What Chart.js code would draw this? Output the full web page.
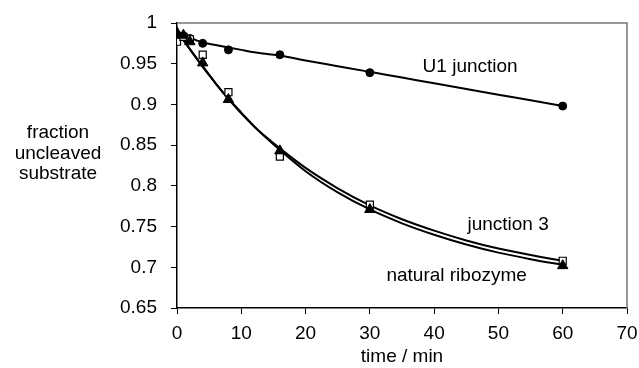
<!DOCTYPE html>
<html>
<head>
<meta charset="utf-8">
<script src="https://cdn.jsdelivr.net/npm/chart.js@4.4.1/dist/chart.umd.min.js"></script>
<style>
  html, body { margin: 0; padding: 0; background: #fff; }
  #wrap { width: 639px; height: 368px; }
</style>
</head>
<body>
<div id="wrap"><canvas id="chart" width="639" height="368"></canvas></div>
<script>
// measured points (time in min, fraction uncleaved)
const times = [0, 1, 2, 4, 8, 16, 30, 60];
const u1Values = [0.985, 0.984, 0.981, 0.975, 0.967, 0.961, 0.939, 0.898];
const junction3Values = [0.977, 0.983, 0.980, 0.961, 0.915, 0.836, 0.777, 0.708];
const naturalValues = [0.988, 0.985, 0.977, 0.951, 0.906, 0.843, 0.771, 0.702];

// fitted curves
const fitTimes = [0, 2, 4, 6, 8, 10, 12, 14, 16, 20, 25, 30, 35, 40, 45, 50, 55, 60];
const u1Fit = [0.990, 0.982, 0.976, 0.973, 0.970, 0.967, 0.964, 0.962, 0.960, 0.954, 0.947, 0.940, 0.933, 0.926, 0.919, 0.912, 0.905, 0.898];
const junction3Fit = [0.990, 0.968, 0.946, 0.926, 0.907, 0.889, 0.873, 0.859, 0.846, 0.822, 0.797, 0.776, 0.759, 0.745, 0.733, 0.723, 0.715, 0.708];
const naturalFit = [0.990, 0.968, 0.947, 0.926, 0.907, 0.890, 0.873, 0.858, 0.844, 0.818, 0.792, 0.771, 0.754, 0.740, 0.728, 0.718, 0.710, 0.703];

const curveLabels = ["U1 junction", "junction 3", "natural ribozyme"];
const labelSpots = [{ x: 45.6, y: 0.946 }, { x: 51.5, y: 0.752 }, { x: 43.5, y: 0.690 }];

const FONT = "'Liberation Sans', Arial, sans-serif";

function pts(xs, ys) {
  return xs.map((x, i) => ({ x, y: ys[i] }));
}

function fitLine(data, order) {
  return {
    type: "line",
    data,
    borderColor: "#000",
    borderWidth: 2,
    pointRadius: 0,
    cubicInterpolationMode: "monotone",
    fill: false,
    order
  };
}

const extras = {
  id: "extras",
  beforeDatasetsDraw(chart) {
    const { ctx, chartArea: a } = chart;
    ctx.save();
    ctx.strokeStyle = "#777";
    ctx.lineWidth = 1.5;
    ctx.beginPath();
    ctx.moveTo(a.left, a.top);
    ctx.lineTo(a.right, a.top);
    ctx.lineTo(a.right, a.bottom);
    ctx.stroke();
    ctx.restore();
  },
  afterDraw(chart) {
    const { ctx } = chart;
    const xs = chart.scales.x;
    const ys = chart.scales.y;
    ctx.save();
    ctx.fillStyle = "#000";
    ctx.font = "19px " + FONT;
    ctx.textAlign = "center";
    ctx.textBaseline = "middle";
    curveLabels.forEach((t, i) => {
      ctx.fillText(t, xs.getPixelForValue(labelSpots[i].x), ys.getPixelForValue(labelSpots[i].y));
    });
    ctx.fillText("time / min", 402, 357);
    ["fraction", "uncleaved", "substrate"].forEach((t, i) => {
      ctx.fillText(t, 58, 133 + i * 20.5);
    });
    ctx.restore();
  }
};

new Chart(document.getElementById("chart"), {
  type: "scatter",
  data: {
    datasets: [
      {
        label: "natural ribozyme",
        data: pts(times, naturalValues),
        pointStyle: "triangle",
        pointRadius: 6,
        backgroundColor: "#000",
        borderColor: "#000",
        borderWidth: 1,
        order: 1
      },
      {
        label: "junction 3",
        data: pts(times, junction3Values),
        pointStyle: "rect",
        pointRadius: 5,
        backgroundColor: "#fff",
        borderColor: "#000",
        borderWidth: 1.2,
        order: 2
      },
      {
        label: "U1 junction",
        data: pts(times, u1Values),
        pointStyle: "circle",
        pointRadius: 4,
        backgroundColor: "#000",
        borderColor: "#000",
        borderWidth: 1,
        order: 3
      },
      fitLine(pts(fitTimes, u1Fit), 6),
      fitLine(pts(fitTimes, junction3Fit), 5),
      fitLine(pts(fitTimes, naturalFit), 4)
    ]
  },
  options: {
    responsive: false,
    animation: false,
    events: [],
    layout: { padding: { top: 23, right: 12, left: 0, bottom: 0 } },
    plugins: {
      legend: { display: false },
      tooltip: { enabled: false }
    },
    scales: {
      x: {
        type: "linear",
        min: 0,
        max: 70,
        afterFit(s) { s.height = 60; s.paddingLeft = 0; s.paddingRight = 0; },
        ticks: {
          stepSize: 10,
          color: "#000",
          padding: 8,
          font: { family: FONT, size: 19 }
        },
        grid: { drawOnChartArea: false, drawTicks: true, tickLength: 6, color: "#000" },
        border: { display: true, color: "#000", width: 1.5 }
      },
      y: {
        type: "linear",
        min: 0.65,
        max: 1,
        afterFit(s) { s.width = 177; s.paddingTop = 0; s.paddingBottom = 0; },
        ticks: {
          stepSize: 0.05,
          color: "#000",
          padding: 14,
          font: { family: FONT, size: 19 },
          callback: v => String(Number(v.toFixed(2)))
        },
        grid: { drawOnChartArea: false, drawTicks: true, tickLength: 6, color: "#000" },
        border: { display: true, color: "#000", width: 1.5 }
      }
    }
  },
  plugins: [extras]
});
</script>
</body>
</html>
